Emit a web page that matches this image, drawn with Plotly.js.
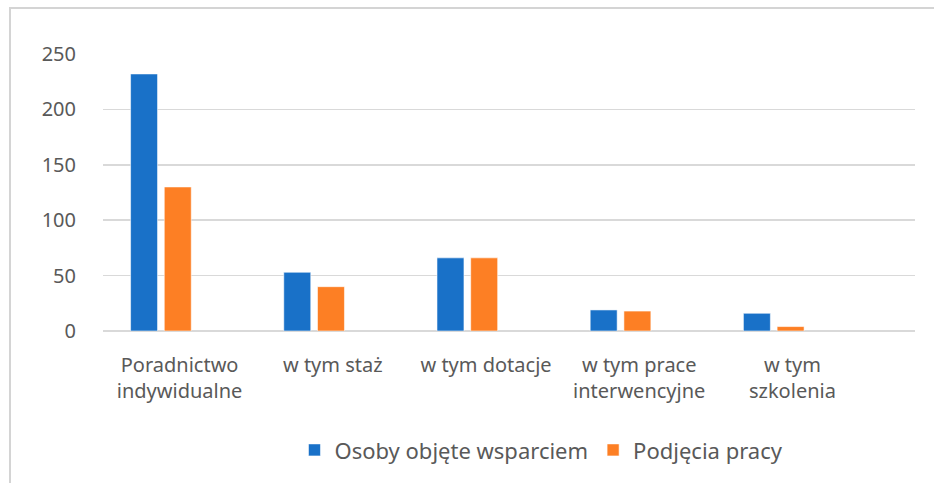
<!DOCTYPE html>
<html>
<head>
<meta charset="utf-8">
<script src="https://cdn.plot.ly/plotly-3.0.1.min.js"></script>
<style>
  html, body { margin: 0; padding: 0; background: #fff; }
  #wrap { position: relative; width: 934px; height: 483px; }
  #chart { width: 934px; height: 483px; }
  #frame { position: absolute; left: 9px; top: 7px; width: 940px; height: 500px;
           border-left: 2px solid #d4d4d4; border-top: 2px solid #d4d4d4; pointer-events: none; }
</style>
</head>
<body>
<div id="wrap">
  <div id="chart"></div>
  <div id="frame"></div>
</div>
<script>
const categories = ["Poradnictwo<br>indywidualne", "w tym staż", "w tym dotacje", "w tym prace<br>interwencyjne", "w tym<br>szkolenia"];
const seriesNames = ["Osoby objęte wsparciem", "Podjęcia pracy"];
const osobyObjete = [232, 53, 66, 19, 16];
const podjeciaPracy = [130, 40, 66, 18, 4];
const yTicks = [0, 50, 100, 150, 200, 250];

const textColor = "#595959";
const fontFam = "'Noto Sans', 'Open Sans', sans-serif";

const traces = [
  {
    type: "bar", x: categories, y: osobyObjete, name: seriesNames[0],
    width: 0.176, offset: -0.32,
    marker: { color: "#1971c8", line: { color: "rgba(255,255,255,0.55)", width: 1 } },
    hoverinfo: "y"
  },
  {
    type: "bar", x: categories, y: podjeciaPracy, name: seriesNames[1],
    width: 0.176, offset: -0.10,
    marker: { color: "#fd7f24", line: { color: "rgba(255,255,255,0.55)", width: 1 } },
    hoverinfo: "y"
  }
];

const layout = {
  width: 934, height: 483,
  margin: { l: 103, r: 19, t: 54, b: 150 },
  paper_bgcolor: "#ffffff", plot_bgcolor: "#ffffff",
  font: { family: fontFam, size: 20, color: textColor },
  barmode: "overlay",
  showlegend: true,
  legend: {
    orientation: "h", x: 0.54, xanchor: "center", y: -0.43, yanchor: "middle",
    font: { family: fontFam, size: 22, color: textColor },
    itemwidth: 30, traceorder: "normal"
  },
  xaxis: {
    type: "category", range: [-0.5, 4.8],
    showgrid: false, showline: false, zeroline: false, ticks: "",
    tickfont: { family: fontFam, size: 20, color: textColor },
    ticklabelstandoff: 20, fixedrange: true
  },
  yaxis: {
    range: [0, 250], tickvals: yTicks, ticktext: yTicks.map(String),
    showgrid: true, gridcolor: "#d9d9d9", gridwidth: 1.5,
    zeroline: true, zerolinecolor: "#d9d9d9", zerolinewidth: 1.5,
    showline: false, ticks: "",
    tickfont: { family: fontFam, size: 20, color: textColor },
    ticklabelstandoff: 26, fixedrange: true
  }
};

Plotly.newPlot("chart", traces, layout, { displayModeBar: false, staticPlot: true });
</script>
</body>
</html>
